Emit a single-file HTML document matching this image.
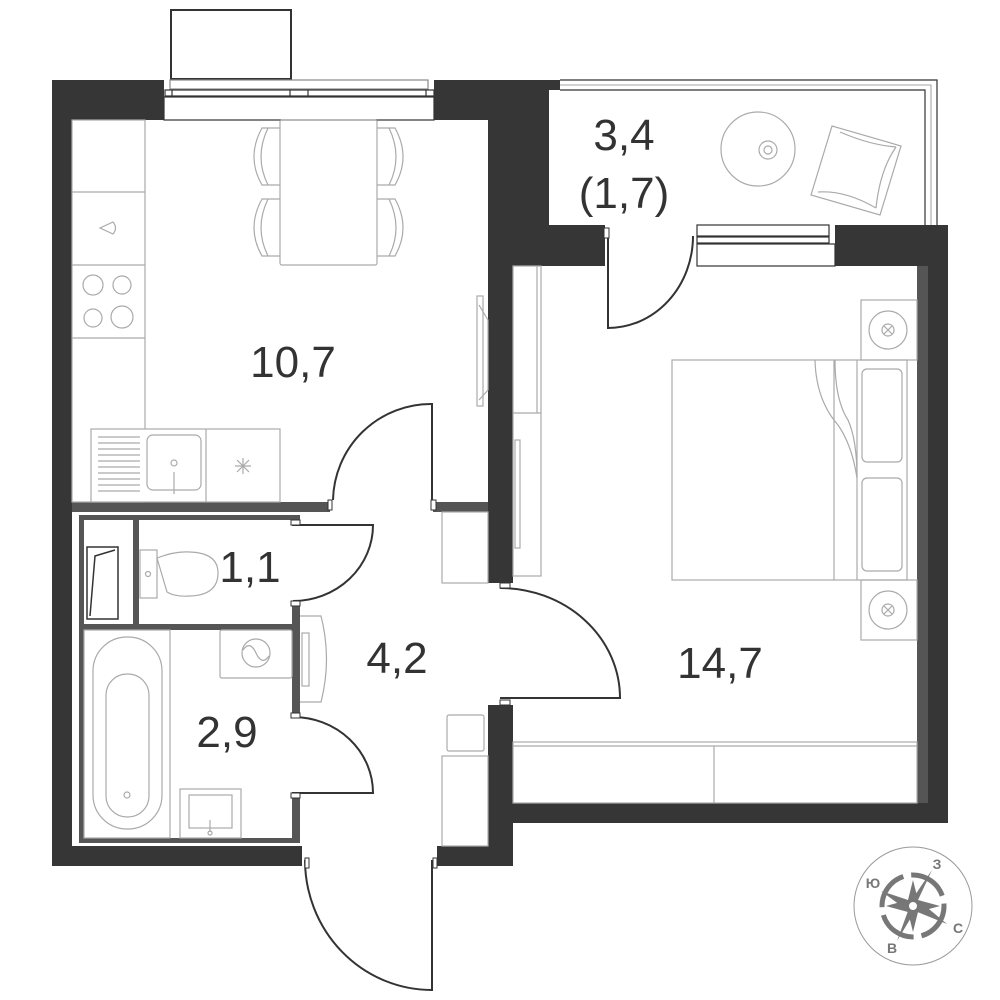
<!DOCTYPE html>
<html><head><meta charset="utf-8"><style>
html,body{margin:0;padding:0;background:#fff;}
svg{display:block;}
text{font-family:"Liberation Sans",sans-serif;fill:#333;}
</style></head><body>
<svg width="1000" height="1000" viewBox="0 0 1000 1000" xmlns="http://www.w3.org/2000/svg">
<rect x="171" y="10" width="120" height="69" fill="none" stroke="#333" stroke-width="2"/>
<g fill="#363636">
<rect x="52" y="80" width="112" height="40"/>
<rect x="52" y="80" width="20" height="786"/>
<rect x="434" y="80" width="115" height="40"/>
<rect x="488" y="80" width="61" height="186"/>
<rect x="488" y="225" width="117" height="41"/>
<rect x="488" y="225" width="25" height="358"/>
<rect x="835" y="225" width="113" height="41"/>
<rect x="928" y="225" width="20" height="598"/>
<rect x="488" y="803" width="460" height="20"/>
<rect x="488" y="705" width="25" height="161"/>
<rect x="437" y="846" width="76" height="20"/>
<rect x="52" y="846" width="250" height="20"/>
<rect x="549" y="80" width="11" height="10"/>
</g>
<g fill="#555">
<rect x="72" y="502" width="258" height="10"/>
<rect x="433" y="502" width="55" height="10"/>
<rect x="79" y="515" width="221" height="5"/>
<rect x="79" y="515" width="5" height="328"/>
<rect x="79" y="838" width="221" height="5"/>
<rect x="292" y="515" width="8" height="10"/>
<rect x="292" y="602" width="8" height="114"/>
<rect x="292" y="795" width="8" height="48"/>
<rect x="84" y="624" width="209" height="6"/>
<rect x="133" y="520" width="6" height="104"/>
<rect x="917" y="266" width="11" height="537"/>
</g>
<g fill="#fff" stroke="#333" stroke-width="1.2">
<rect x="170" y="80" width="258" height="9" stroke="#888"/>
<rect x="165" y="90" width="269" height="6"/>
<line x1="172" y1="90" x2="172" y2="96"/><line x1="290" y1="90" x2="290" y2="96"/><line x1="308" y1="90" x2="308" y2="96"/><line x1="426" y1="90" x2="426" y2="96"/>
<rect x="164" y="97" width="270" height="23"/>
</g>
<g fill="none" stroke="#333" stroke-width="1.2">
<path d="M560 80 H937 V225"/>
<path d="M560 90 H925 V225"/>
<path d="M560 85 H931 V225" stroke="#888" stroke-width="0.8"/>
</g>
<g fill="#fff" stroke="#333" stroke-width="1.2">
<rect x="697" y="225" width="132" height="11"/>
<rect x="697" y="237" width="132" height="6"/>
<rect x="697" y="244" width="138" height="22"/>
</g>
<g fill="none" stroke="#333" stroke-width="2">
<path d="M432 502 V404 A98 98 0 0 0 333 500"/>
<path d="M292 525 H373 A80 76 0 0 1 293 601"/>
<path d="M292 793 H373 A80 76 0 0 0 293 717"/>
<path d="M432 860 V990 A127 130 0 0 1 305 860"/>
<path d="M500 698 H620 A120 110 0 0 0 500 588"/>
<path d="M608 236 V328 A85 92 0 0 0 693 236"/>
</g>
<g fill="#fff" stroke="#333" stroke-width="1">
<rect x="328" y="500" width="4" height="10"/><rect x="431" y="500" width="5" height="10"/>
<rect x="291" y="520" width="9" height="5"/><rect x="291" y="601" width="9" height="5"/>
<rect x="291" y="713" width="9" height="5"/><rect x="291" y="793" width="9" height="5"/>
<rect x="305" y="858" width="4" height="10"/><rect x="433" y="858" width="4" height="10"/>
<rect x="500" y="583" width="10" height="5"/><rect x="500" y="700" width="10" height="5"/>
<rect x="604" y="228" width="5" height="10"/>
</g>
<g fill="none" stroke="#aaa" stroke-width="1.2">
<rect x="72" y="120" width="73" height="382"/>
<line x1="72" y1="192" x2="145" y2="192"/><line x1="72" y1="265" x2="145" y2="265"/><line x1="72" y1="338" x2="145" y2="338"/>
<circle cx="93" cy="285" r="10"/><circle cx="122" cy="285" r="9"/><circle cx="93" cy="318" r="9"/><circle cx="122" cy="317" r="11"/>
<path d="M100 228 L113 222 Q118 228 113 234 Z"/>
<rect x="91" y="429" width="189" height="73" fill="#fff"/>
<line x1="206" y1="429" x2="206" y2="502"/>
<rect x="147" y="435" width="54" height="55" rx="6"/>
<circle cx="174" cy="463" r="3"/><line x1="174" y1="472" x2="174" y2="494"/>
<path d="M98 437H140M98 443H140M98 449H140M98 455H140M98 461H140M98 467H140M98 473H140M98 479H140M98 485H140M98 491H140"/>
<path d="M243 458V474M235 466H251M237 460L249 472M249 460L237 472"/>
<rect x="280" y="120" width="97" height="145" rx="2"/>
<path d="M280 128 H262 Q246 157 262 185 H280 M268 128 Q254 157 268 185"/>
<path d="M280 199 H262 Q246 228 262 256 H280 M268 199 Q254 228 268 256"/>
<path d="M377 128 H395 Q411 157 395 185 H377 M389 128 Q403 157 389 185"/>
<path d="M377 199 H395 Q411 228 395 256 H377 M389 199 Q403 228 389 256"/>
<rect x="477" y="296" width="6" height="110"/><path d="M479 305 L488 320 L488 390 L479 400"/>
<rect x="513" y="266" width="28" height="310"/><line x1="513" y1="413" x2="541" y2="413"/><line x1="537" y1="266" x2="537" y2="413"/>
<rect x="515" y="440" width="5" height="108"/>
<rect x="442" y="512" width="46" height="71"/>
<rect x="442" y="756" width="46" height="90"/>
<rect x="447" y="715" width="37" height="36" rx="2"/>
<path d="M300 616 H321 Q332 659 321 702 H300"/><rect x="302" y="633" width="7" height="53"/>
<rect x="84" y="630" width="86" height="208"/>
<rect x="93" y="637" width="69" height="192" rx="34"/>
<rect x="106" y="674" width="43" height="143" rx="21"/>
<circle cx="127" cy="795" r="3"/>
<rect x="220" y="630" width="72" height="48" rx="2"/>
<circle cx="256" cy="653" r="14"/><path d="M243 650 Q250 640 256 653 Q262 666 269 656"/>
<rect x="180" y="789" width="61" height="49"/><rect x="189" y="795" width="43" height="33"/>
<line x1="210" y1="820" x2="210" y2="832"/><circle cx="210" cy="833" r="2"/>
<rect x="140" y="550" width="17" height="48"/>
<circle cx="148" cy="574" r="2.5"/>
<path d="M157 558 Q175 551 190 552 Q218 553 218 573 Q218 595 190 596 Q175 597 167 592 Z"/>
<rect x="672" y="360" width="235" height="220"/>
<line x1="834" y1="360" x2="834" y2="580"/><line x1="857" y1="360" x2="857" y2="580"/>
<path d="M815 360 Q816 400 838 425 Q852 445 857 478 M835 360 Q835 400 848 420 Q857 440 857 478"/>
<rect x="862" y="369" width="40" height="93" rx="5"/><rect x="862" y="478" width="40" height="93" rx="5"/>
<rect x="861" y="300" width="56" height="60"/><circle cx="888" cy="330" r="19"/><circle cx="888" cy="330" r="6"/><path d="M884 326L892 334M892 326L884 334"/>
<rect x="861" y="580" width="56" height="60"/><circle cx="888" cy="610" r="19"/><circle cx="888" cy="610" r="6"/><path d="M884 606L892 614M892 606L884 614"/>
<rect x="513" y="742" width="404" height="61"/><line x1="513" y1="746" x2="917" y2="746"/><line x1="714" y1="746" x2="714" y2="803"/>
<circle cx="758" cy="149" r="37"/><circle cx="768" cy="150" r="9"/><circle cx="768" cy="150" r="4"/>
<path d="M832 126 L901 146 L880 215 L811 195 Z"/><path d="M840 132 Q870 145 896 147 M896 147 Q880 170 876 208 M818 192 Q845 190 876 208"/>
</g>
<rect x="87" y="547" width="31" height="72" fill="none" stroke="#333" stroke-width="1.5"/>
<path d="M90 616 L95 556 L115 550" fill="none" stroke="#333" stroke-width="1.5"/>
<g font-size="44" text-anchor="middle">
<text x="293" y="377">10,7</text>
<text x="624" y="150">3,4</text>
<text x="624" y="208">(1,7)</text>
<text x="250" y="582">1,1</text>
<text x="397" y="673">4,2</text>
<text x="227" y="747">2,9</text>
<text x="720" y="678">14,7</text>
</g>
<g>
<circle cx="913" cy="906" r="59" fill="none" stroke="#999" stroke-width="1"/>
<circle cx="913" cy="906" r="31" fill="none" stroke="#777" stroke-width="5" stroke-dasharray="40 8"/>
<polygon fill="#777" points="932,870 918,900 947,924 915,911 897,941 908,911 881,891 911,901"/>
<polygon fill="#777" points="913,880 918,900 940,906 918,912 913,932 908,912 886,906 908,900"/>
<circle cx="913" cy="906" r="5" fill="#fff" stroke="#777" stroke-width="2"/>
<g font-size="14" font-weight="bold" text-anchor="middle">
<text x="937" y="869" style="fill:#777">З</text>
<text x="873" y="888" style="fill:#777">Ю</text>
<text x="958" y="933" style="fill:#777">С</text>
<text x="892" y="953" style="fill:#777">В</text>
</g>
</g>
</svg>
</body></html>
